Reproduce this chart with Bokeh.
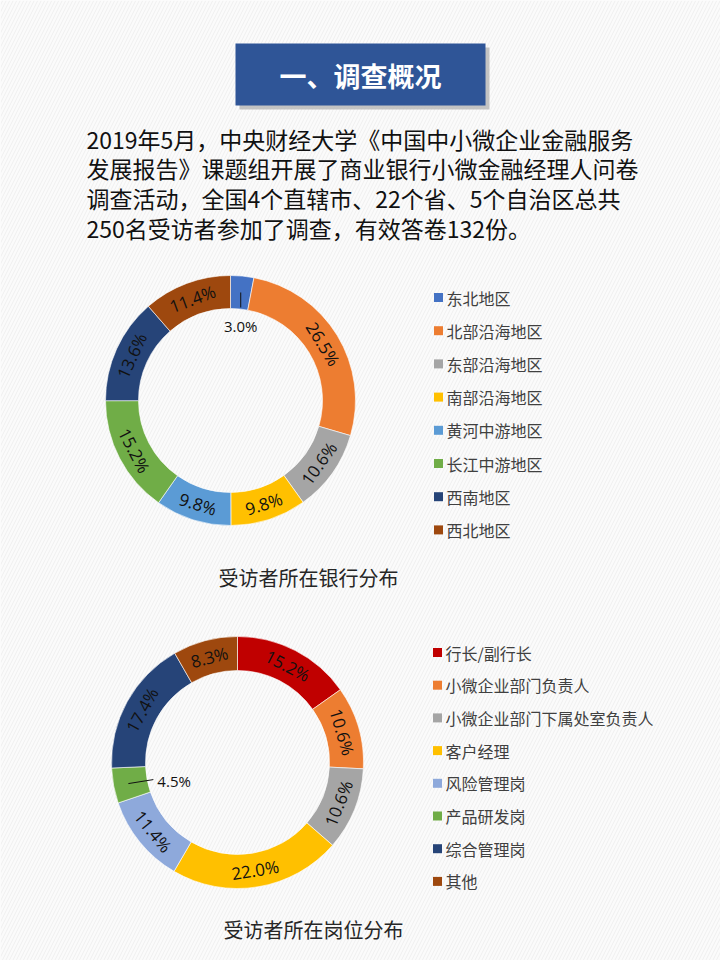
import math
from bokeh.plotting import figure
from bokeh.models import Range1d, ColumnDataSource
from bokeh.core.properties import value
from bokeh.embed import file_html
from bokeh.resources import INLINE

# ---------------- data ----------------
title_text = "一、调查概况"
intro_lines = [
    "2019年5月，中央财经大学《中国中小微企业金融服务",
    "发展报告》课题组开展了商业银行小微金融经理人问卷",
    "调查活动，全国4个直辖市、22个省、5个自治区总共",
    "250名受访者参加了调查，有效答卷132份。",
]

bank_regions = ["东北地区", "北部沿海地区", "东部沿海地区", "南部沿海地区",
                "黄河中游地区", "长江中游地区", "西南地区", "西北地区"]
bank_share = [3.0, 26.5, 10.6, 9.8, 9.8, 15.2, 13.6, 11.4]
bank_colors = ["#4472C4", "#ED7D31", "#A5A5A5", "#FFC000",
               "#5B9BD5", "#70AD47", "#264478", "#9E480E"]
bank_caption = "受访者所在银行分布"

post_names = ["行长/副行长", "小微企业部门负责人", "小微企业部门下属处室负责人", "客户经理",
              "风险管理岗", "产品研发岗", "综合管理岗", "其他"]
post_share = [15.2, 10.6, 10.6, 22.0, 11.4, 4.5, 17.4, 8.3]
post_colors = ["#C00000", "#ED7D31", "#A5A5A5", "#FFC000",
               "#8EA9DB", "#70AD47", "#264478", "#9E480E"]
post_caption = "受访者所在岗位分布"

W, H = 720, 960
CJK = "Noto Sans CJK SC"
LAT = "Open Sans"


def Y(py):
    return H - py


p = figure(width=W, height=H, x_range=Range1d(0, W), y_range=Range1d(0, H),
           x_axis_type=None, y_axis_type=None, toolbar_location=None,
           output_backend="svg", min_border=0, outline_line_color=None,
           background_fill_color="#fbfbfb", border_fill_color="#fbfbfb")
p.grid.visible = False

# faint diagonal stripes on the background
p.rect(x=[W / 2], y=[H / 2], width=[W], height=[H], fill_color="#fbfbfb",
       line_color=None, hatch_pattern="/", hatch_color="#efefef",
       hatch_scale=7, hatch_weight=1)

# ---------------- title box ----------------
p.rect(x=[364], y=[Y(78)], width=[250], height=[62], fill_color="#b5b5b5",
       line_color=None, alpha=0.8)
p.rect(x=[360], y=[Y(74)], width=[250], height=[62], fill_color="#2F5597",
       line_color=None)
p.text(x=[360], y=[Y(75)], text=[title_text], text_font=value(CJK),
       text_font_size="27px", text_font_style="bold", text_color="white",
       text_align="center", text_baseline="middle")

# ---------------- intro paragraph ----------------
p.text(x=[86] * len(intro_lines),
       y=[Y(138 + 29.7 * i) for i in range(len(intro_lines))],
       text=intro_lines, text_font=value(CJK), text_font_size="23px",
       text_color="#111111", text_align="left", text_baseline="middle")


def donut(cx, cy, vals, colors, names, r_in, r_out, callouts, legend_x, legend_y0,
          legend_dy, caption, cap_x, cap_y):
    total = sum(vals)
    cum = 0.0
    starts, ends = [], []
    lx, ly, lt, la = [], [], [], []
    r_mid = (r_in + r_out) / 2
    mids = []
    for v in vals:
        c0 = cum / total
        c1 = (cum + v) / total
        starts.append(math.pi / 2 - 2 * math.pi * c0)
        ends.append(math.pi / 2 - 2 * math.pi * c1)
        phi = 360 * (c0 + c1) / 2
        mids.append(phi)
        cum += v
    src = ColumnDataSource(dict(s=starts, e=ends, c=colors))
    p.annular_wedge(x=cx, y=Y(cy), inner_radius=r_in, outer_radius=r_out,
                    start_angle="s", end_angle="e", direction="clock",
                    fill_color="c", line_color="white", line_width=0.6, source=src)
    for i, (v, phi) in enumerate(zip(vals, mids)):
        pr = math.radians(phi)
        px = cx + r_mid * math.sin(pr)
        py = cy - r_mid * math.cos(pr)
        label = f"{v:.1f}%"
        if i in callouts:
            kind = callouts[i]
            if kind == "down":
                p.line(x=[px, px], y=[Y(py), Y(py + 15)], line_color="#111111", line_width=1)
                p.text(x=[px], y=[Y(py + 34)], text=[label], text_font=value(LAT),
                       text_font_size="15px", text_color="#111111",
                       text_align="center", text_baseline="middle")
            else:
                p.line(x=[px - 2, px + 23], y=[Y(py + 1), Y(py - 3)],
                       line_color="#111111", line_width=1)
                p.text(x=[px + 27], y=[Y(py - 2)], text=[label], text_font=value(LAT),
                       text_font_size="15px", text_color="#111111",
                       text_align="left", text_baseline="middle")
            continue
        rot = -phi
        while rot <= -90:
            rot += 180
        while rot > 90:
            rot -= 180
        lx.append(px)
        ly.append(Y(py))
        lt.append(label)
        la.append(math.radians(rot))
    p.text(x=lx, y=ly, text=lt, angle=la, text_font=value(LAT),
           text_font_size="17px", text_color="#111111",
           text_align="center", text_baseline="middle")
    # legend
    n = len(names)
    ys = [legend_y0 + legend_dy * i for i in range(n)]
    p.rect(x=[legend_x] * n, y=[Y(y) for y in ys], width=9, height=9,
           fill_color=colors, line_color=None)
    p.text(x=[legend_x + 8] * n, y=[Y(y) for y in ys], text=names,
           text_font=value(CJK), text_font_size="16px", text_color="#404040",
           text_align="left", text_baseline="middle")
    p.text(x=[cap_x], y=[Y(cap_y)], text=[caption], text_font=value(CJK),
           text_font_size="20px", text_color="#262626",
           text_align="center", text_baseline="middle")


donut(230, 400, bank_share, bank_colors, bank_regions, 92, 125, {0: "down"},
      438, 297, 33.2, bank_caption, 308, 577)
donut(237, 762, post_share, post_colors, post_names, 92, 126, {5: "right"},
      437, 652, 32.7, post_caption, 313, 929)

open("out.html", "w").write(file_html(p, INLINE))
